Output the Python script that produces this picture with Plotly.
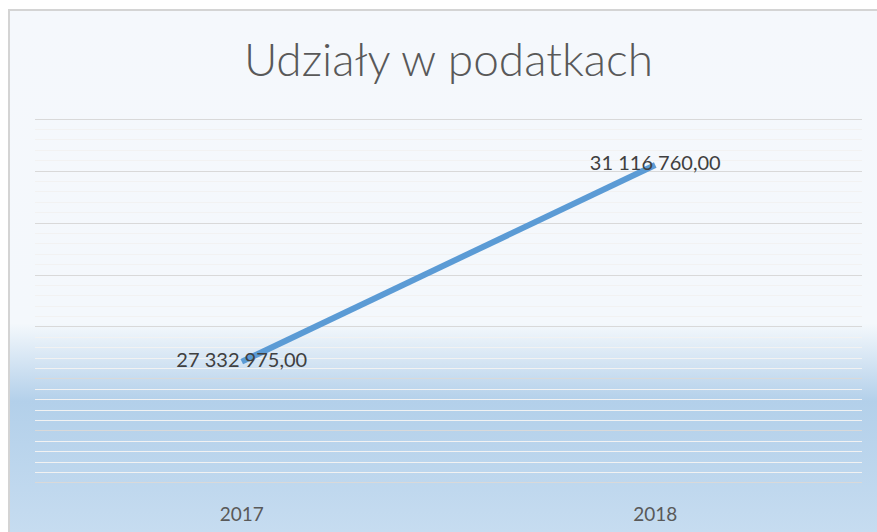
import base64
import plotly.graph_objects as go

# dane z wykresu
years = ["2017", "2018"]
udzialy = [27332975.00, 31116760.00]

y_min = 25000000
y_max = 32000000
major_step = 1000000
minor_step = 200000


def fmt_pl(v):
    # polski format: spacja jako separator tysięcy, przecinek dziesiętny
    return f"{v:,.2f}".replace(",", " ").replace(".", ",")


labels = [fmt_pl(v) for v in udzialy]

W, H = 877, 532
ML, MR, MT, MB = 35, 15, 117, 47
PW, PH = W - ML - MR, H - MT - MB


def px_x(px):
    return (px - ML) / PW


def px_y(py):
    return (H - MB - py) / PH


# gradient tła w stylu Excela (jasny u góry, niebieski na dole)
svg = (
    '<svg xmlns="http://www.w3.org/2000/svg" width="868" height="522" preserveAspectRatio="none">'
    '<defs><linearGradient id="g" x1="0" y1="0" x2="0" y2="1">'
    '<stop offset="0" stop-color="#f5f8fc"/>'
    '<stop offset="0.6" stop-color="#f4f8fc"/>'
    '<stop offset="0.75" stop-color="#b3d0ea"/>'
    '<stop offset="1" stop-color="#c6dcf0"/>'
    '</linearGradient></defs>'
    '<rect width="100%" height="100%" fill="url(#g)"/></svg>'
)
bg_src = "data:image/svg+xml;base64," + base64.b64encode(svg.encode()).decode()

fig = go.Figure()

fig.add_trace(go.Scatter(
    x=years,
    y=udzialy,
    mode="lines+text",
    text=labels,
    textposition="middle center",
    textfont=dict(family="Lato, Carlito, sans-serif", size=20, color="#404040"),
    line=dict(color="#5b9bd5", width=6),
    hoverinfo="skip",
    showlegend=False,
))

# zapas ~2px, żeby plotly nie ucinał linii siatki na krawędziach
pad = minor_step * 0.2

fig.update_layout(
    width=W,
    height=H,
    margin=dict(l=ML, r=MR, t=MT, b=MB),
    paper_bgcolor="white",
    plot_bgcolor="rgba(0,0,0,0)",
    title=dict(
        text="Udziały w podatkach",
        xref="paper",
        x=0.5,
        xanchor="center",
        y=1 - 60 / H,
        yanchor="middle",
        font=dict(family="Lato, Carlito, sans-serif", size=46, color="#595959", weight=300),
    ),
    xaxis=dict(
        type="category",
        range=[-0.5, 1.5],
        automargin=False,
        showgrid=False,
        zeroline=False,
        showline=False,
        ticks="",
        ticklabelstandoff=16,
        tickfont=dict(family="Lato, Carlito, sans-serif", size=19, color="#595959"),
    ),
    yaxis=dict(
        range=[y_min - pad, y_max + pad],
        automargin=False,
        tick0=y_min,
        dtick=major_step,
        showticklabels=False,
        showgrid=True,
        gridcolor="#d9d9d9",
        gridwidth=1,
        zeroline=False,
        showline=False,
        ticks="",
        minor=dict(dtick=minor_step, showgrid=True, gridcolor="#f2f2f2", gridwidth=1),
    ),
    images=[dict(
        source=bg_src,
        xref="paper", yref="paper",
        x=px_x(9), y=px_y(10),
        sizex=(W - 9) / PW, sizey=(H - 10) / PH,
        xanchor="left", yanchor="top",
        sizing="stretch",
        layer="below",
    )],
    shapes=[dict(
        type="rect",
        xref="paper", yref="paper",
        x0=px_x(9), x1=px_x(W + 20),
        y0=px_y(H + 20), y1=px_y(10),
        line=dict(color="#d4d4d4", width=2),
        layer="below",
    )],
)

# bez domyślnego marginesu strony i bez paska narzędzi
fig.write_html(
    "out.html",
    config={"displayModeBar": False},
    post_script="document.body.style.margin='0';",
)
